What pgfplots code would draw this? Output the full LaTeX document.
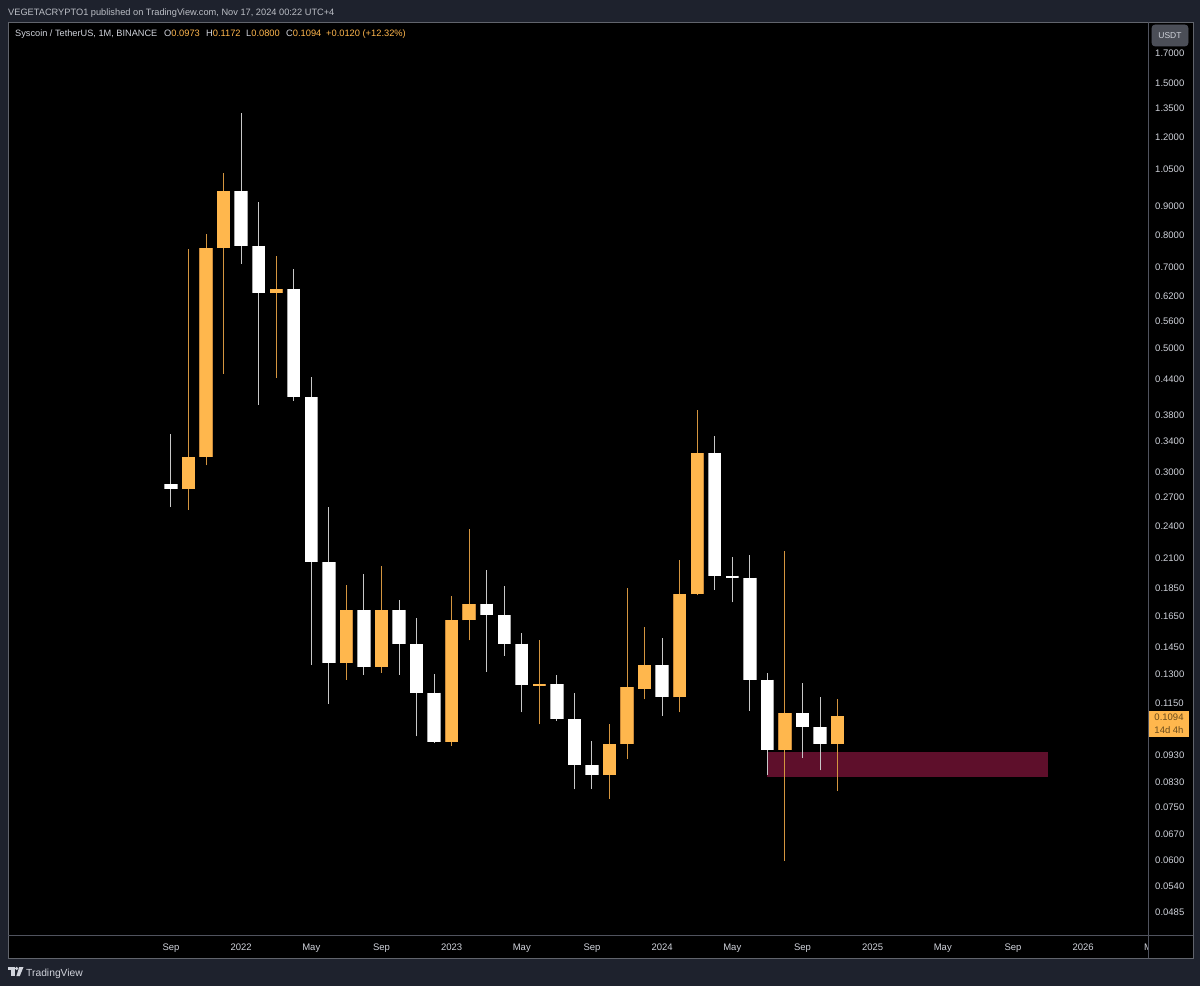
\documentclass[border=0pt]{standalone}
\usepackage{pgfplots}
\pgfplotsset{compat=1.18}
\usepackage{fontspec}
\setmainfont{Liberation Sans}
\definecolor{frame}{HTML}{1E222D}
\definecolor{upc}{HTML}{FFB74D}
\definecolor{upedge}{HTML}{C8893A}
\definecolor{upwick}{HTML}{D4953F}
\definecolor{dnc}{HTML}{FFFFFF}
\definecolor{dnedge}{HTML}{A8A8A8}
\definecolor{dnwick}{HTML}{C8C8C8}
\definecolor{zone}{HTML}{5E0F2B}
\definecolor{sep}{HTML}{50535E}
\definecolor{lbl}{HTML}{D1D4DC}
\definecolor{boxtxt}{HTML}{6A4B1C}
% candle: index, open, high, low, close
\newcommand{\up}[5]{%
  \addplot[upwick, line width=1pt] coordinates {(#1,#4) (#1,#3)};
  \addplot[upedge, line width=13.4pt] coordinates {(#1,#2) (#1,#5)};
  \addplot[upc, line width=12.2pt] coordinates {(#1,#2) (#1,#5)};}
\newcommand{\dn}[5]{%
  \addplot[dnwick, line width=1pt] coordinates {(#1,#4) (#1,#3)};
  \addplot[dnedge, line width=13.4pt] coordinates {(#1,#2) (#1,#5)};
  \addplot[dnc, line width=12.2pt] coordinates {(#1,#2) (#1,#5)};}
\begin{document}
\begin{tikzpicture}[x=1pt,y=1pt]
\useasboundingbox (0,0) rectangle (1200,986);
\fill[frame] (0,0) rectangle (1200,986);
\fill[black] (8,28) rectangle (1193,964);
\draw[frame!70!white, line width=0.6pt] (8,28) rectangle (1193,964);
% header
\node[anchor=base west, inner sep=0pt, text=lbl!90!black, font=\fontsize{9.25}{11}\selectfont] at (8,970) {VEGETACRYPTO1 published on TradingView.com, Nov 17, 2024 00:22 UTC+4};
\node[anchor=base west, inner sep=0pt, text=lbl, font=\fontsize{9.2}{11}\selectfont] at (15,949) {Syscoin / TetherUS, 1M, BINANCE};
\node[anchor=base west, inner sep=0pt, font=\fontsize{9.3}{11}\selectfont] at (164,949) {\textcolor{lbl}{O}\textcolor{upc}{0.0973}};
\node[anchor=base west, inner sep=0pt, font=\fontsize{9.3}{11}\selectfont] at (206,949) {\textcolor{lbl}{H}\textcolor{upc}{0.1172}};
\node[anchor=base west, inner sep=0pt, font=\fontsize{9.3}{11}\selectfont] at (246,949) {\textcolor{lbl}{L}\textcolor{upc}{0.0800}};
\node[anchor=base west, inner sep=0pt, font=\fontsize{9.3}{11}\selectfont] at (286,949) {\textcolor{lbl}{C}\textcolor{upc}{0.1094}};
\node[anchor=base west, inner sep=0pt, text=upc, font=\fontsize{9.3}{11}\selectfont] at (326,949) {+0.0120 (+12.32\%)};
\begin{axis}[
  at={(8pt,51pt)}, anchor=south west,
  scale only axis, width=1140pt, height=913pt,
  xmin=-9.29, xmax=55.70,
  ymode=log, ymin=0.04409, ymax=1.933,
  axis line style={draw=none}, tick style={draw=none},
  major tick length=0pt,
  xtick={0,4,8,12,16,20,24,28,32,36,40,44,48,52},
  xticklabels={Sep,2022,May,Sep,2023,May,Sep,2024,May,Sep,2025,May,Sep,2026},
  xticklabel style={anchor=base, inner sep=0pt, yshift=-15.5pt, text=lbl, font=\fontsize{9.5}{11}\selectfont},
  ytick={1.7,1.5,1.35,1.2,1.05,0.9,0.8,0.7,0.62,0.56,0.5,0.44,0.38,0.34,0.3,0.27,0.24,0.21,0.185,0.165,0.145,0.13,0.115,0.093,0.083,0.075,0.067,0.06,0.054,0.0485},
  yticklabels={1.7000,1.5000,1.3500,1.2000,1.0500,0.9000,0.8000,0.7000,0.6200,0.5600,0.5000,0.4400,0.3800,0.3400,0.3000,0.2700,0.2400,0.2100,0.1850,0.1650,0.1450,0.1300,0.1150,0.0930,0.0830,0.0750,0.0670,0.0600,0.0540,0.0485},
  yticklabel pos=right,
  yticklabel style={anchor=west, inner sep=0pt, xshift=7pt, text=lbl, font=\fontsize{9.5}{11}\selectfont},
]
% support zone
\addplot[fill=zone, draw=none] coordinates {(34,0.0849) (50,0.0849) (50,0.0941) (34,0.0941)} -- cycle;
% monthly candles (index 0 = Sep 2021)
\dn{0}{0.2853}{0.351}{0.2594}{0.2795}
\up{1}{0.2795}{0.754}{0.2566}{0.3196}
\up{2}{0.3196}{0.803}{0.3084}{0.759}
\up{3}{0.759}{1.036}{0.450}{0.959}
\dn{4}{0.962}{1.324}{0.710}{0.765}
\dn{5}{0.765}{0.916}{0.396}{0.6285}
\up{6}{0.630}{0.733}{0.4425}{0.640}
\dn{7}{0.640}{0.695}{0.403}{0.4085}
\dn{8}{0.4085}{0.444}{0.135}{0.2064}
\dn{9}{0.2064}{0.259}{0.1148}{0.136}
\up{10}{0.136}{0.188}{0.1268}{0.1694}
\dn{11}{0.1694}{0.197}{0.1294}{0.134}
\up{12}{0.134}{0.2035}{0.1306}{0.1694}
\dn{13}{0.1694}{0.1765}{0.1294}{0.1469}
\dn{14}{0.1469}{0.1637}{0.1004}{0.1203}
\dn{15}{0.1203}{0.1299}{0.0976}{0.0982}
\up{16}{0.0982}{0.1797}{0.0964}{0.1623}
\up{17}{0.1623}{0.2365}{0.1494}{0.1739}
\dn{18}{0.1739}{0.200}{0.1312}{0.1657}
\dn{19}{0.1657}{0.187}{0.1401}{0.1473}
\dn{20}{0.1473}{0.1537}{0.1109}{0.124}
\up{21}{0.1238}{0.1496}{0.1055}{0.1246}
\dn{22}{0.1246}{0.1294}{0.107}{0.1077}
\dn{23}{0.1077}{0.1202}{0.0806}{0.0892}
\dn{24}{0.0892}{0.0983}{0.0808}{0.0855}
\up{25}{0.0855}{0.1057}{0.0775}{0.0972}
\up{26}{0.0972}{0.1855}{0.0913}{0.123}
\up{27}{0.1222}{0.158}{0.117}{0.1349}
\dn{28}{0.1349}{0.1508}{0.1092}{0.118}
\up{29}{0.118}{0.2084}{0.1109}{0.1809}
\up{30}{0.1809}{0.3876}{0.1800}{0.3241}
\dn{31}{0.3241}{0.3485}{0.1841}{0.1952}
\dn{32}{0.1952}{0.2112}{0.1747}{0.1935}
\dn{33}{0.1937}{0.2127}{0.1116}{0.1269}
\dn{34}{0.1269}{0.1304}{0.0855}{0.0949}
\up{35}{0.0949}{0.2163}{0.0600}{0.1104}
\dn{36}{0.1104}{0.1253}{0.0917}{0.1042}
\dn{37}{0.1042}{0.1181}{0.0872}{0.0973}
\up{38}{0.0973}{0.1172}{0.0800}{0.1094}
\end{axis}
% partially hidden time label
\node[anchor=base, inner sep=0pt, text=lbl, font=\fontsize{9.5}{11}\selectfont] at (1153,35.5) {May};
\fill[black] (1149,28.3) rectangle (1192.7,50.7);
% scale separators
\draw[sep, line width=0.8pt] (8,51) -- (1193,51);
\draw[sep, line width=0.8pt] (1148.5,28) -- (1148.5,964);
% current price label
\fill[upc] (1149,249) rectangle (1189,275);
\node[anchor=base, inner sep=0pt, text=boxtxt, font=\fontsize{9.5}{11}\selectfont] at (1169,265.5) {0.1094};
\node[anchor=base, inner sep=0pt, text=boxtxt, font=\fontsize{9.5}{11}\selectfont] at (1169,252) {14d 4h};
% currency button
\draw[fill=frame!80!white, draw=sep, rounded corners=3pt, line width=0.6pt] (1152,940) rectangle (1188,961);
\node[inner sep=0pt, text=lbl, font=\fontsize{8.5}{10}\selectfont] at (1170,950.5) {USDT};
% TradingView logo
\fill[lbl] (8,19) rectangle (14.8,16);
\fill[lbl] (11.2,16) rectangle (14.8,10);
\fill[lbl] (16.6,17.5) circle (1.7);
\fill[lbl] (19.2,19) -- (23.5,19) -- (19.8,10) -- (16.4,10) -- cycle;
\node[anchor=base west, inner sep=0pt, text=lbl, font=\fontsize{10.3}{12}\selectfont] at (26,10) {TradingView};
\end{tikzpicture}
\end{document}
